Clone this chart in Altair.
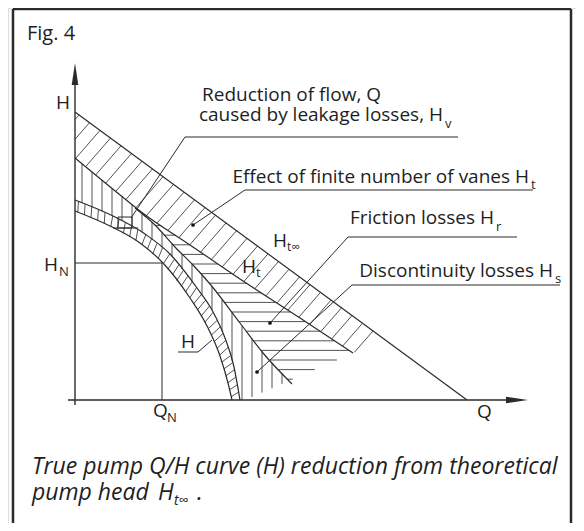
import altair as alt
import numpy as np
import pandas as pd

# ---------------- data (Q = flow units from origin, H = head units from origin) -------------
HTINF_Q = [0, 392]                      # theoretical head H_t_inf (straight)
HTINF_H = [288, 0]
HT_Q = [0, 55, 65, 115, 162, 225, 278]  # H_t curve
HT_H = [242, 197, 189, 155, 123, 82, 47]
HT_CLOSE = (308, 62)                     # where the H_t band closes on H_t_inf
HR_Q = [60, 80, 100, 118, 135, 165, 188, 217]   # lower edge of friction losses
HR_H = [192, 175, 153, 135, 116, 77, 47, 16]
H_Q = [0, 35, 65, 88, 115, 132, 145, 153, 157]  # true pump curve H
H_H = [189, 174, 157, 137, 102, 74, 44, 17, 0]
HO_Q = [0, 38, 70, 95, 122, 137, 150, 159, 165] # outer edge of the H band
HO_H = [200, 184, 166, 146, 112, 90, 62, 33, 0]
HS_Q = [170, 278]                         # discontinuity losses edge
HS_H = [0, 47]
QN, HN = 87, 137                          # rated point

INK = "#2b2b2b"
FONT = "Open Sans"
LAB = 19
SUB = 13

XS = alt.Scale(domain=[-67, 501], nice=False, zero=False)
YS = alt.Scale(domain=[-123, 392], nice=False, zero=False)


def X(f):
    return alt.X(f, type="quantitative", scale=XS, axis=None)


def Y(f):
    return alt.Y(f, type="quantitative", scale=YS, axis=None)


def curve(qs, hs, width=1.2):
    df = pd.DataFrame({"q": qs, "h": hs, "i": range(len(qs))})
    return alt.Chart(df).mark_line(color=INK, strokeWidth=width, interpolate="monotone").encode(
        x=X("q"), y=Y("h"), order="i:Q")


def segs(rows, width=1.0, color=INK):
    df = pd.DataFrame(rows, columns=["q1", "h1", "q2", "h2"])
    return alt.Chart(df).mark_rule(color=color, strokeWidth=width).encode(
        x=X("q1"), y=Y("h1"), x2="q2", y2="h2")


def texts(rows, align="left", italic=False):
    df = pd.DataFrame(rows, columns=["t", "q", "h", "s"])
    return alt.Chart(df).mark_text(align=align, baseline="alphabetic", font=FONT, color="#1e1e1e",
                                   fontStyle="italic" if italic else "normal").encode(
        x=X("q"), y=Y("h"), text="t:N", size=alt.Size("s:Q", scale=None))


def ray_hit(pq, ph, p0, d):
    best = None
    for i in range(len(pq) - 1):
        a = np.array([pq[i], ph[i]], float)
        b = np.array([pq[i + 1], ph[i + 1]], float)
        e = b - a
        M = np.array([[d[0], -e[0]], [d[1], -e[1]]])
        if abs(np.linalg.det(M)) < 1e-12:
            continue
        t, s = np.linalg.solve(M, a - p0)
        if t > 1e-9 and -1e-9 <= s <= 1 + 1e-9:
            if best is None or t < best:
                best = t
    return None if best is None else p0 + best * d


# ---------------- hatching ----------------
hatch = []
# vertical hatch (leakage)
for k in range(21):
    q = 7 + 10 * k
    top = np.interp(q, HT_Q, HT_H) if q < HR_Q[0] else np.interp(q, HR_Q, HR_H, right=-1)
    bot = max(np.interp(q, HO_Q, HO_H, right=0), np.interp(q, HS_Q, HS_H, left=0, right=0))
    if top - bot > 1:
        hatch.append((q, bot, q, top))
# horizontal hatch (friction)
for k in range(18):
    h = 184 - 9.6 * k
    left = np.interp(h, HR_H[::-1], HR_Q[::-1])
    right = np.interp(h, HT_H[::-1], HT_Q[::-1]) if h >= HS_H[1] else np.interp(h, HS_H, HS_Q)
    if right - left > 1:
        hatch.append((left, h, right, h))
# diagonal hatch between H_t_inf and H_t
slope_inf = HTINF_H[0] / HTINF_Q[1]
bq = [0, 0] + HT_Q + [HT_CLOSE[0]]
bh = [320, HT_H[0]] + HT_H + [HT_CLOSE[1]]
d = np.array([-1.0, -1.15])
d = d / np.linalg.norm(d)
for qa in np.arange(4, 306, 10.5):
    p0 = np.array([qa, HTINF_H[0] - slope_inf * qa])
    hit = ray_hit(bq, bh, p0, d)
    if hit is not None:
        hatch.append((p0[0], p0[1], hit[0], hit[1]))
# band of the true curve H
dq = np.diff(H_Q).astype(float)
dh = np.diff(H_H).astype(float)
seglen = np.hypot(dq, dh)
cum = np.concatenate([[0], np.cumsum(seglen)])
for s in np.arange(3, cum[-1] - 1, 7.2):
    i = min(np.searchsorted(cum, s) - 1, len(seglen) - 1)
    i = max(i, 0)
    f = (s - cum[i]) / seglen[i]
    p = np.array([H_Q[i] + f * dq[i], H_H[i] + f * dh[i]])
    t = np.array([dq[i], dh[i]]) / seglen[i]
    n = np.array([-t[1], t[0]])
    dd = n - 0.35 * t
    hit = ray_hit(HO_Q, HO_H, p, dd / np.linalg.norm(dd))
    if hit is not None:
        hatch.append((p[0], p[1], hit[0], hit[1]))

# ---------------- annotations ----------------
leaders = [
    (110, 263, 383, 263), (110, 263, 56, 182),           # leakage
    (43, 172, 57, 172), (43, 183, 57, 183), (43, 172, 43, 183), (57, 172, 57, 183), (38, 172, 63, 172),
    (170, 210, 458, 210), (170, 210, 118, 175),          # vanes
    (273, 163, 442, 163), (273, 163, 195, 77),           # friction
    (277, 115, 485, 115), (277, 115, 182, 28),           # discontinuity
    (103, 48, 123, 48), (123, 48, 137, 60),              # H label
    (0, HN, QN, HN), (QN, HN, QN, 0),                    # rated point
]
axes_rows = [(0, -5, 0, 320), (-7, 0, 440, 0)]
frame_rows = [(-62, 391, 496, 391), (-62, 391, -62, -131), (496, 391, 496, -131)]
dots = pd.DataFrame({"q": [118, 195, 182], "h": [175, 77, 28]})

left_txt = [
    ("Fig. 4", -48, 360, 20),
    ("Reduction of flow, Q", 127, 299, LAB),
    ("Q", 78, -17, LAB), ("N", 92, -22, SUB),
    ("Q", 402, -18, LAB),
    ("H", 198, 153, LAB), ("t∞", 212, 149, 12),
    ("H", 167, 127, LAB), ("t", 181, 123, SUB),
    ("H", 106, 52, LAB),
    ("v", 370, 272, SUB), ("t", 456, 211, SUB), ("r", 421, 169, SUB), ("s", 480, 117, SUB),
    ("N", -16, 124, SUB),
]
right_txt = [
    ("H", -5, 291, LAB),
    ("H", -17, 129, LAB),
    ("caused by leakage losses, H", 368, 279, LAB),
    ("Effect of finite number of vanes H", 454, 217, LAB),
    ("Friction losses H", 419, 176, LAB),
    ("Discontinuity losses H", 478, 123, LAB),
]
cap_txt = [
    ("True pump Q/H curve (H) reduction from theoretical", -43, -74, 23),
    ("pump head", -43, -100, 23), ("H", 83, -100, 23), ("t∞", 99, -105, 14), (".", 122, -100, 23),
]

arrow_up = pd.DataFrame({"q": [0], "h": [326]})
arrow_rt = pd.DataFrame({"q": [442], "h": [0]})

layers = [
    segs(frame_rows, 2.5),
    segs(hatch, 0.85, "#333333"),
    curve(HTINF_Q, HTINF_H),
    curve(HT_Q, HT_H),
    curve(HR_Q, HR_H),
    curve(H_Q, H_H),
    curve(HO_Q, HO_H),
    segs(leaders, 1.0),
    segs(axes_rows, 1.4),
    alt.Chart(arrow_up).mark_point(shape="M 0 -1 L 0.3 1 L -0.3 1 Z", filled=True, size=484,
                                   color=INK, opacity=1).encode(x=X("q"), y=Y("h")),
    alt.Chart(arrow_rt).mark_point(shape="M 1 0 L -1 0.3 L -1 -0.3 Z", filled=True, size=484,
                                   color=INK, opacity=1).encode(x=X("q"), y=Y("h")),
    alt.Chart(dots).mark_circle(size=14, color="#111", opacity=1).encode(x=X("q"), y=Y("h")),
    texts(left_txt, "left"),
    texts(right_txt, "right"),
    texts(cap_txt, "left", italic=True),
]

chart = alt.layer(*layers).properties(
    width=568, height=515, padding=0,
    autosize=alt.AutoSizeParams(type="none"),
).configure_view(stroke=None).configure(background="white")

chart.save("out.html", embed_options={"renderer": "svg", "actions": False})
